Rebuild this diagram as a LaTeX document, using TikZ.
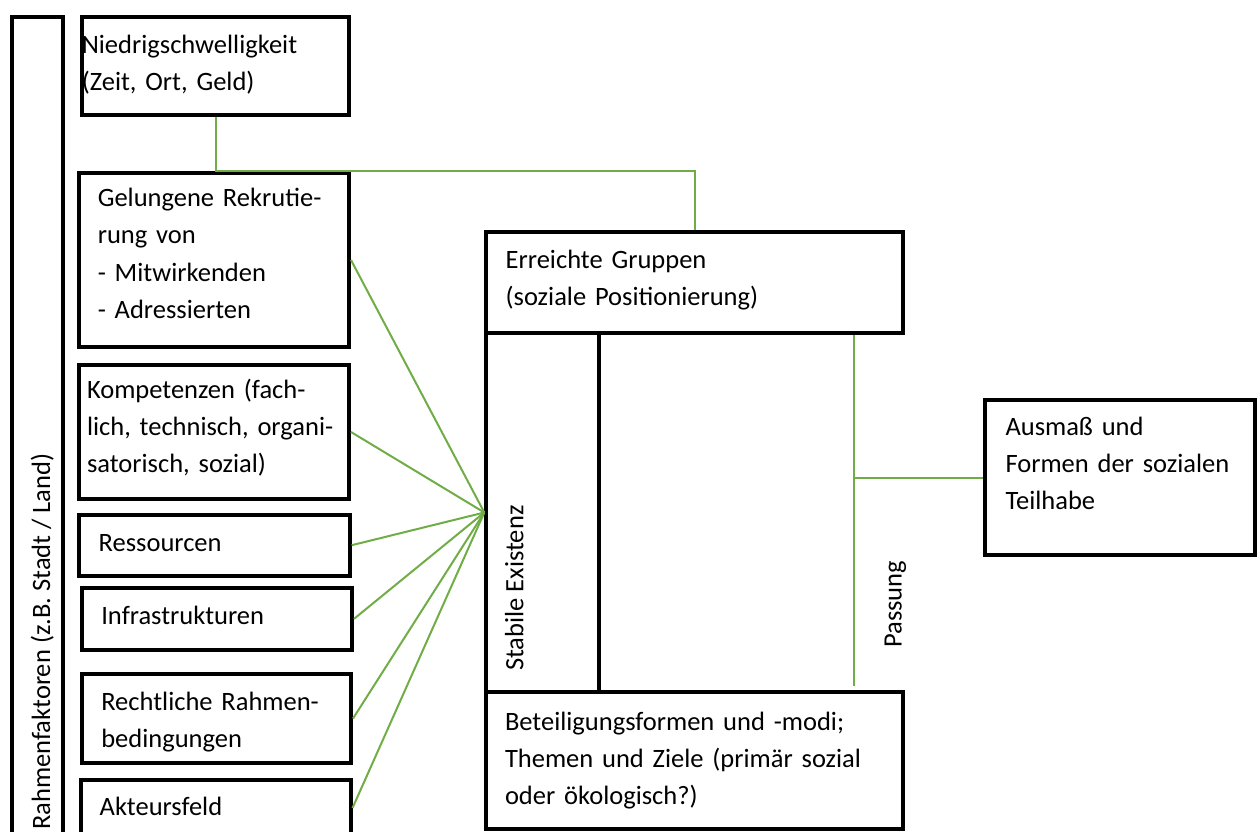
\documentclass[tikz,border=0pt]{standalone}
\usepackage{fontspec}
\setmainfont{Carlito}
\definecolor{gruen}{HTML}{70AD47}

\begin{document}
\begin{tikzpicture}[x=1pt, y=-1pt, font=\fontsize{26.5}{37.3}\selectfont]
        \tikzset{block/.style={draw,
                shape=rectangle,
                line width=4pt,
                align=left,
                inner sep=0pt,
                text height=0pt,
                text depth=0pt
            },
            link/.style={draw=gruen, line width=2pt},
            vtext/.style={rotate=90, anchor=base west, inner sep=0pt}
        }
        \useasboundingbox (0,0) rectangle (1259,832);
        \clip (0,0) rectangle (1259,832);
        \node [block, minimum width=51pt, minimum height=819pt] (rahmen)
            at (37.5,426.5) {};
        \node [vtext] (rahmentext) at (50,830)
            {Rahmenfaktoren (z.B. Stadt / Land)};
        \node [block, minimum width=267pt, minimum height=98pt,
            text width=267.4pt, text depth=25.4pt] (niedrig) at (215.5,66)
            {Niedrigschwelligkeit\\(Zeit, Ort, Geld)};
        \node [block, minimum width=270pt, minimum height=174pt,
            text width=232.4pt, text depth=106.6pt] (rekrut) at (214,260)
            {Gelungene Rekrutie-\\rung von\\- Mitwirkenden\\- Adressierten};
        \node [block, minimum width=269.7pt, minimum height=133.4pt,
            text width=254.3pt, text depth=68pt] (kompetenz) at (214.15,432)
            {Kompetenzen (fach-\\lich, technisch, organi-\\satorisch, sozial)};
        \node [block, minimum width=270.4pt, minimum height=61pt,
            text width=231.6pt, text height=11.6pt] (ressourcen) at (214.5,545.2)
            {Ressourcen};
        \node [block, minimum width=270pt, minimum height=61.7pt,
            text width=231.4pt, text height=10.3pt] (infra) at (217,618.85)
            {Infrastrukturen};
        \node [block, minimum width=269pt, minimum height=89pt,
            text width=230.4pt, text depth=17pt] (recht) at (216.5,718.5)
            {Rechtliche Rahmen-\\bedingungen};
        \node [block, minimum width=269.2pt, minimum height=56pt,
            text width=232.4pt, text height=15.4pt] (akteure) at (215.9,808)
            {Akteursfeld};
        \node [block, minimum width=416.7pt, minimum height=101pt,
            text width=377.9pt, text depth=28.4pt] (gruppen) at (694.65,282.5)
            {Erreichte Gruppen\\(soziale Positionierung)};
        \node [block, minimum width=112.4pt, minimum height=359pt] (existenz)
            at (542.5,512.5) {};
        \node [vtext] (existenztext) at (523.3,671) {Stabile Existenz};
        \node [block, minimum width=416.7pt, minimum height=136.7pt,
            text width=379.3pt, text depth=60.7pt] (beteiligung) at (694.65,760.35)
            {Beteiligungsformen und -modi;\\Themen und Ziele (primär sozial\\oder ökologisch?)};
        \node [block, minimum width=269.7pt, minimum height=154.7pt,
            text width=228.7pt, text depth=85.3pt] (teilhabe) at (1119.85,477.65)
            {Ausmaß und\\Formen der sozialen\\Teilhabe};
        \node [vtext] (passungtext) at (901.5,648) {Passung};
        \coordinate (passfuss) at (854,686);
%% paths
\draw[link] (niedrig.south) |- (gruppen.north |- rekrut.north) -- (gruppen.north);
\path[link]
    (rekrut.east) edge (existenz.west)
    (kompetenz.east) edge (existenz.west)
    (ressourcen.east) edge (existenz.west)
    (infra.east) edge (existenz.west)
    (recht.east) edge (existenz.west)
    (akteure.east) edge (existenz.west)
;
\draw[link] (gruppen.south -| passfuss) -- (passfuss);
\draw[link] (passfuss |- teilhabe.west) -- (teilhabe.west);
\end{tikzpicture}
\end{document}
